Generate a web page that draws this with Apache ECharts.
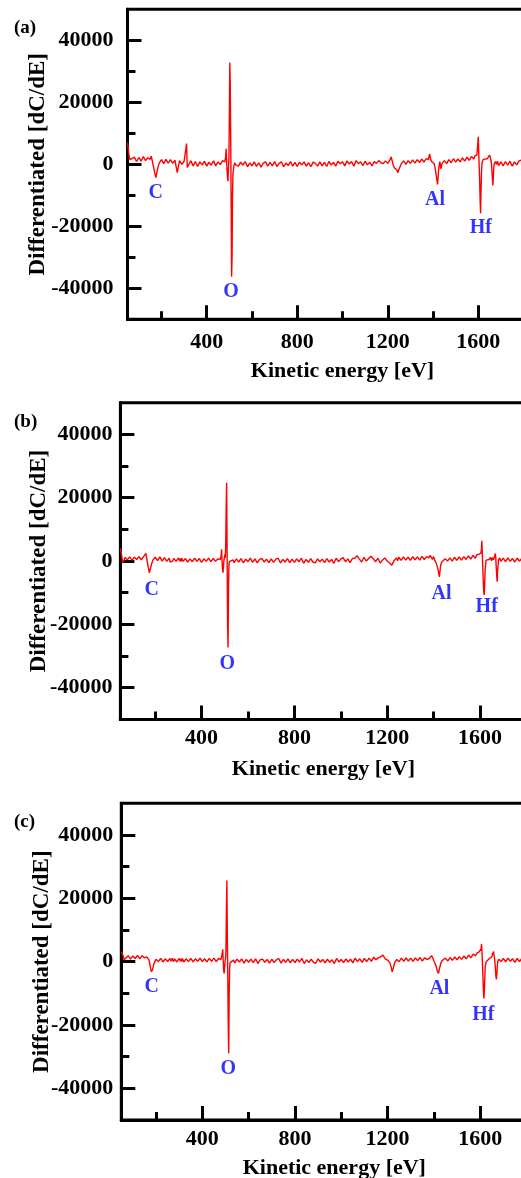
<!DOCTYPE html>
<html>
<head>
<meta charset="utf-8">
<script src="https://cdn.jsdelivr.net/npm/echarts@6/dist/echarts.min.js"></script>
<style>
  html, body { margin: 0; padding: 0; background: #fff; }
  #chart { width: 521px; height: 1178px; }
</style>
</head>
<body>
<div id="chart"></div>
<script>
// Kinetic energy grid (eV), finer around the peaks
const energy = [
  50, 54, 58, 62, 66, 70, 80, 90, 100, 110, 120, 130, 140, 150,
  155, 160, 165, 170, 175, 180, 185, 190, 200, 210, 220, 230, 240, 250, 260,
  265, 270, 275, 280, 290, 300, 305, 308, 311, 314, 320, 330, 340, 350, 360, 370, 380, 390, 400, 410, 420, 430, 440, 450, 460, 470, 476,
  480, 484, 486, 488, 490, 492, 494, 496, 498, 500, 502, 504, 506, 508, 510, 512, 514, 516, 518, 520, 524, 528, 535,
  540, 550, 560, 570, 580, 590, 600, 610,
  620, 630, 640, 650, 660, 670, 680, 690,
  700, 710, 720, 730, 740, 750, 760, 770,
  780, 790, 800, 810, 820, 830, 840, 850,
  860, 870, 880, 890, 900, 910, 920, 930,
  940, 950, 960, 970, 980, 990, 1000, 1010,
  1020, 1030, 1040, 1050, 1060, 1070, 1080, 1090,
  1100, 1110, 1120, 1130, 1140, 1150, 1160, 1170,
  1180, 1190, 1200, 1210, 1215, 1220, 1225, 1230, 1240, 1245, 1250, 1260, 1270, 1280, 1290, 1300, 1310, 1320, 1330, 1340, 1350, 1360, 1370,
  1380, 1385, 1390, 1395, 1400, 1405, 1410, 1415, 1420, 1425, 1430, 1435, 1440,
  1450, 1460, 1470, 1480, 1490, 1500, 1510, 1520, 1530, 1540, 1550, 1560, 1570, 1580, 1585, 1590, 1594, 1598,
  1600, 1602, 1604, 1606, 1608, 1610, 1612, 1614, 1616, 1618, 1620, 1622, 1626, 1630,
  1640, 1645, 1650, 1654, 1658, 1662, 1664, 1666, 1668, 1670, 1672, 1674, 1676, 1680, 1685, 1690,
  1700, 1710, 1720, 1730, 1740, 1750, 1760, 1770, 1780, 1790, 1800
];

// dC/dE values for each sample
const diffA = [
  7000, 4500, 2200, 1500, 2000, 1000, 2300, 900, 2200, 1000, 2500, 1200, 2100, 1600,
  2600, 2100, -800, -2600, -4300, -2500, -900, 400, 1500, 200, 1600, 400, 1500, 300, 1300,
  -800, -2700, -600, 1200, 0, 900, 700, 1500, 6700, -1000, -600, 1100, -500, 900, -700, 800, -200, 1000, -600, 700, -300, 1100, -500, 800, -100, 1200, 600,
  800, 2500, 5000, 1000, -2000, -4500, -5400, -1500, 2000, 14000, 32800, 26000, 8000, -12000, -36300, -30000, -10000, -3000, -2000, -500, 500, -200, 400,
  -600, 700, -300, 900, -800, 400, -500, 800,
  -700, 500, -900, 400, 800, -600, 600, -500,
  900, -700, 300, 800, -800, 400, -400, 900,
  -600, 600, -700, 700, -200, 800, -600, 500,
  -800, 700, 300, -600, 800, -500, 600, -700,
  900, -200, 600, -600, 1000, 200, 800, -500,
  1100, 100, 900, -600, 1200, 200, 800, -400,
  1000, -200, 700, -500, 900, 300, 1200, 500,
  200, 1100, 300, 1400, 2400, 1000, -500, -1200, -1800, -2700, -1500, 200, 1100, 0, 1200, 300, 1400, 400, 1500, 600, 1700, 700, 1800,
  1500, 3400, 1500, 800, 1200, 200, -1500, -4000, -6500, -1500, 900, -1500, 300,
  1200, 200, 1500, 500, 1800, 700, 1700, 800, 2100, 1000, 2300, 1300, 2500, 1700, 2700, 2200, 3000, 2500,
  8900, 4000, -1000, -5000, -11000, -15800, -9000, -3000, 0, 800, 1200, 1600, 1000, 1600,
  1800, 1200, 3000, 2000, 500, -4000, -6800, -5000, -1500, 0, 500, -300, 900, -100, 1000, -400,
  800, -500, 900, -300, 1000, -600, 800, -200, 1100, 1300, 400
];

const diffB = [
  4000, 2500, 500, -500, 300, 1100, 400, 1300, 300, 1200, 500, 1400, 400, 1400,
  1500, 2400, 200, -2000, -3700, -2200, -800, 300, 1200, 100, 1300, 0, 1100, -100, 900,
  -300, -900, 0, 800, -100, 1000, 0, 800, -200, 900, -100, 800, -300, 700, -200, 900, -100, 800, -400, 700, -100, 900, -200, 800, -100, 700, 300,
  500, 1500, 3700, 500, -2500, -3700, -2000, 0, 500, 2000, 1000, 5000, 17000, 24700, 2000, -20000, -27300, -8000, -1000, -200, 300, 0, 400,
  -500, 700, -300, 800, -600, 600, -200, 900,
  -400, 700, -600, 500, 800, -300, 600, -500,
  700, -400, 600, 900, -600, 500, -300, 800,
  -500, 600, -400, 700, -200, 900, -700, 500,
  -400, 800, -300, -600, 700, -200, 600, -500,
  800, -300, 500, -700, 900, -200, 600, 1100,
  -200, 700, -500, 800, 900, 1700, 600, -300,
  1200, 0, 800, 1500, 700, -200, 900, -600,
  300, 1000, 0, -600, -1000, -1300, -800, 200, 1000, 100, 1200, 200, 1300, 300, 1200, 200, 1400, 400, 1300, 300, 1500, 500, 1400,
  1000, 1800, 2400, 500, 1400, 300, -500, -1500, -3000, -5000, -1500, -300, 200,
  700, 0, 1000, 0, 1200, 200, 1300, 300, 1400, 500, 1600, 600, 1800, 900, 1900, 1300, 2100, 1600,
  2000, 1500, 2500, 3500, 6400, 2000, -2000, -6000, -9500, -10700, -8000, -3000, 300, 800,
  500, 1200, 100, 1100, 400, 1200, 1800, 2400, 1000, -2000, -4500, -6500, -3000, 300, 1000, -100,
  900, -200, 1000, -100, 800, -300, 900, 0, 800, -200, 400
];

const diffC = [
  3200, 3000, 1800, 600, 0, 1200, 1900, 800, 1800, 1000, 2000, 900, 1900, 1200,
  1800, 1500, 1800, 500, -1500, -3200, -2500, -800, 800, 0, 1000, -100, 900, 0, 1000,
  100, 1100, 0, 900, -100, 1000, 100, 900, 0, 1000, -100, 900, 0, 1000, -100, 900, 100, 1100, 0, 900, -100, 1000, 100, 1100, 0, 1000, 500,
  600, 1200, 2500, 3900, 500, -2500, -3700, -2000, 0, 1000, 3000, 16000, 25600, 8000, -5000, -20000, -28900, -10000, -2000, -300, 300, 0, 500,
  -400, 800, -100, 900, -500, 700, -200, 800,
  -300, 900, -600, 600, 800, -200, 700, -500,
  800, -300, 600, 1000, -500, 700, -200, 900,
  -400, 700, -300, 800, -100, 1000, -600, 600,
  -300, 800, -200, -500, 900, -100, 700, -400,
  800, -200, 600, -600, 1000, -100, 700, -300,
  900, -100, 800, -400, 1100, 0, 900, -200,
  1000, 0, 1100, 100, 1400, 600, 1200, 1500,
  2100, 900, 500, -300, -1500, -3200, -2000, -500, 700, 1200, 0, 1100, 100, 1200, 200, 1100, 100, 1200, 300, 1300, 200, 1200, 700,
  1000, 1300, 1900, 1200, 300, -500, -1500, -3000, -3700, -2000, -500, 300, 0,
  1100, 200, 1300, 400, 1500, 600, 1600, 700, 1800, 900, 2100, 1200, 2400, 1800, 2600, 2300, 3000, 3200,
  3500, 2800, 4000, 5600, 3000, -1000, -5000, -9000, -11600, -9500, -5000, -1500, 0, 500,
  1000, 600, 1500, 2500, 3200, 1000, -500, -2500, -4500, -5600, -4000, -1500, 0, 800, 1100, 0,
  1000, -100, 1100, 100, 900, -200, 1000, 0, 1100, 100, 600
];

// Element labels: positions in data units (eV, dC/dE)
const elements = ['C', 'O', 'Al', 'Hf'];
const markAE = [175, 507, 1409, 1611];
const markAV = [-9200, -41200, -11300, -20500];
const markBE = [185, 511, 1434, 1629];
const markBV = [-9200, -32300, -10200, -14400];
const markCE = [181, 512, 1424, 1614];
const markCV = [-7900, -33700, -8700, -16800];

// Axis ticks
const xTickLabels = [400, 800, 1200, 1600];
const xMinorTicks = [200, 600, 1000, 1400, 1800];
const yTickLabels = [-40000, -20000, 0, 20000, 40000];
const yMinorTicks = [-30000, -10000, 10000, 30000];

const panelTags = ['(a)', '(b)', '(c)'];

const FONT = "'Liberation Serif', 'Times New Roman', serif";
const RED = '#ff0000';
const BLUE = '#0000ff';

const panels = [
  { values: diffA, markE: markAE, markV: markAV, left: 127.5, top: 9.3, width: 430, height: 310, xMax: 1950,
    yMargin: 14, xMargin: 12, xNameGap: 41, yNameGap: 78, tagTop: 19 },
  { values: diffB, markE: markBE, markV: markBV, left: 120.4, top: 402.7, width: 406, height: 316.7, xMax: 1800,
    yMargin: 8, xMargin: 8, xNameGap: 39, yNameGap: 70, tagTop: 413 },
  { values: diffC, markE: markCE, markV: markCV, left: 121.3, top: 803.3, width: 426, height: 316.7, xMax: 1890,
    yMargin: 8, xMargin: 8, xNameGap: 37, yNameGap: 68, tagTop: 813 }
];

const tickStyle = { color: '#000', fontFamily: FONT, fontWeight: 'bold', fontSize: 22 };
const xNameStyle = { color: '#000', fontFamily: FONT, fontWeight: 'bold', fontSize: 22 };
const yNameStyle = { color: '#000', fontFamily: FONT, fontWeight: 'bold', fontSize: 23 };
const tickLine = { color: '#000', width: 3 };
const plain = v => String(v);

const option = {
  backgroundColor: '#fff',
  animation: false,
  title: [],
  grid: [],
  xAxis: [],
  yAxis: [],
  series: []
};

panels.forEach((p, i) => {
  option.title.push({
    text: panelTags[i], left: 14, top: p.tagTop, padding: 0,
    textStyle: { fontFamily: FONT, fontWeight: 'bold', fontSize: 19, color: '#000' }
  });
  option.grid.push({
    left: p.left, top: p.top, width: p.width, height: p.height,
    containLabel: false, outerBoundsMode: 'none',
    show: true, borderColor: '#000', borderWidth: 3, backgroundColor: 'transparent'
  });
  // main x axis: labelled ticks
  option.xAxis.push({
    type: 'value', gridIndex: i, min: 50, max: p.xMax, position: 'bottom',
    name: 'Kinetic energy [eV]', nameLocation: 'middle', nameGap: p.xNameGap, nameMoveOverlap: false,
    nameTextStyle: xNameStyle,
    axisLine: { show: true, onZero: false, lineStyle: tickLine },
    axisTick: { show: true, inside: true, length: 14, customValues: xTickLabels, lineStyle: tickLine },
    axisLabel: Object.assign({ customValues: xTickLabels, margin: p.xMargin, formatter: plain }, tickStyle),
    splitLine: { show: false }
  });
  // minor x ticks
  option.xAxis.push({
    type: 'value', gridIndex: i, min: 50, max: p.xMax, position: 'bottom',
    axisLine: { show: false, onZero: false },
    axisTick: { show: true, inside: true, length: 8, customValues: xMinorTicks, lineStyle: tickLine },
    axisLabel: { show: false },
    splitLine: { show: false }
  });
  option.yAxis.push({
    type: 'value', gridIndex: i, min: -50000, max: 50000, interval: 10000, position: 'left',
    name: 'Differentiated [dC/dE]', nameLocation: 'middle', nameGap: p.yNameGap, nameMoveOverlap: false,
    nameTextStyle: yNameStyle,
    axisLine: { show: true, onZero: false, lineStyle: tickLine },
    axisTick: { show: true, inside: true, length: 14, customValues: yTickLabels, lineStyle: tickLine },
    axisLabel: Object.assign({ customValues: yTickLabels, margin: p.yMargin, formatter: plain }, tickStyle),
    splitLine: { show: false }
  });
  option.yAxis.push({
    type: 'value', gridIndex: i, min: -50000, max: 50000, interval: 10000, position: 'left',
    axisLine: { show: false, onZero: false },
    axisTick: { show: true, inside: true, length: 8, customValues: yMinorTicks, lineStyle: tickLine },
    axisLabel: { show: false },
    splitLine: { show: false }
  });

  option.series.push({
    type: 'line', xAxisIndex: i * 2, yAxisIndex: i * 2,
    data: energy.map((e, k) => [e, p.values[k]]),
    showSymbol: false, symbol: 'none', clip: true,
    lineStyle: { color: RED, width: 1.4 },
    z: 3
  });
  option.series.push({
    type: 'scatter', xAxisIndex: i * 2, yAxisIndex: i * 2,
    data: elements.map((el, k) => [p.markE[k], p.markV[k], el]),
    symbolSize: 1, itemStyle: { color: 'rgba(0,0,0,0)' },
    label: {
      show: true, position: 'inside',
      formatter: d => d.data[2],
      color: BLUE, fontFamily: FONT, fontWeight: 'bold', fontSize: 20
    },
    z: 4
  });
});

const chart = echarts.init(document.getElementById('chart'));
chart.setOption(option);
</script>
</body>
</html>
